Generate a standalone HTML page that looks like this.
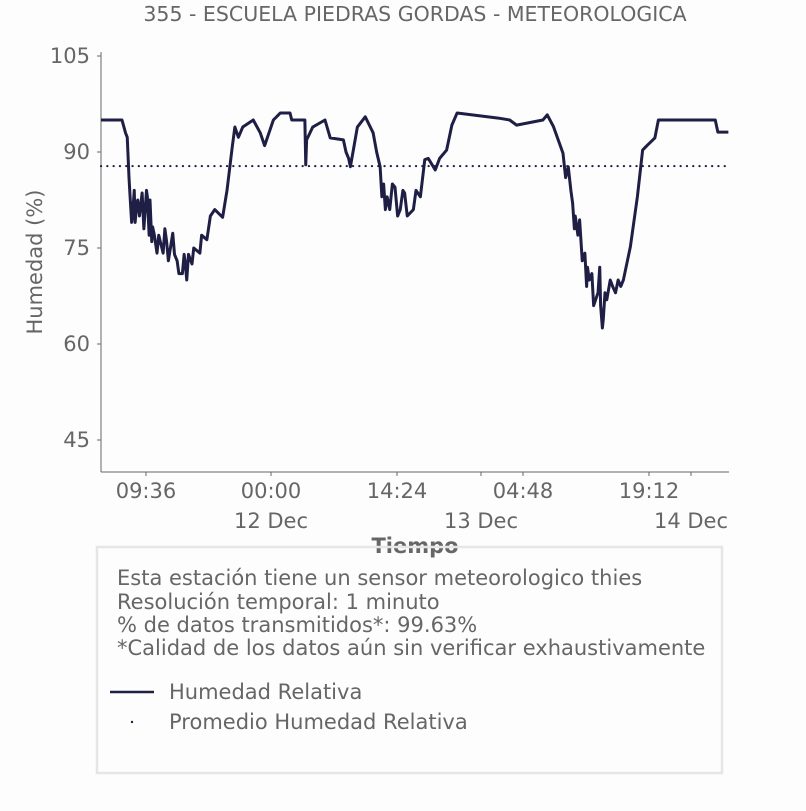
<!DOCTYPE html>
<html><head><meta charset="utf-8"><style>
body{margin:0;background:#fdfdfd;}
svg text{font-family:"DejaVu Sans","Liberation Sans",sans-serif;fill:#666;}
</style></head><body>
<svg id="chart" width="806" height="806" viewBox="0 0 806 806" xmlns="http://www.w3.org/2000/svg">
<rect x="0" y="0" width="806" height="806" fill="#fdfdfd"/>
<text x="415" y="21" text-anchor="middle" font-size="20.5">355 - ESCUELA PIEDRAS GORDAS - METEOROLOGICA</text>
<g id="plot"></g>
<text transform="translate(42,262) rotate(-90)" text-anchor="middle" font-size="21">Humedad (%)</text>
<text x="415" y="553" text-anchor="middle" font-size="21" font-weight="bold">Tiempo</text>
<rect x="97" y="547" width="625" height="226" fill="none" stroke="#e6e6e6" stroke-width="2.5"/>
<text x="117" y="585" font-size="21">Esta estación tiene un sensor meteorologico thies</text>
<text x="117" y="609" font-size="21">Resolución temporal: 1 minuto</text>
<text x="117" y="632" font-size="21">% de datos transmitidos*: 99.63%</text>
<text x="117" y="655" font-size="21">*Calidad de los datos aún sin verificar exhaustivamente</text>
<line x1="110" y1="692" x2="154" y2="692" stroke="#1f1f45" stroke-width="2.5"/>
<text x="169" y="699" font-size="21">Humedad Relativa</text>
<circle cx="132" cy="722" r="1.2" fill="#1f1f45"/>
<text x="169" y="729" font-size="21">Promedio Humedad Relativa</text>
</svg>
<script>
const hours = [0,2.4,2.8,3.0,3.2,3.3,3.5,3.6,3.8,3.9,4.1,4.2,4.4,4.7,4.9,5.0,5.2,5.3,5.5,5.6,5.8,5.9,6.1,6.4,6.6,7.1,7.3,7.5,7.7,8.2,8.4,8.7,8.9,9.3,9.5,9.6,9.8,10.0,10.4,10.6,11.3,11.5,12.1,12.5,13.0,13.9,14.4,15.0,15.3,15.7,16.2,17.4,18.2,18.7,19.7,20.5,21.6,21.8,23.0,23.3,23.4,23.5,24.2,25.6,26.2,27.7,28.0,28.3,28.5,28.8,29.3,30.2,31.1,31.5,31.9,32.1,32.3,32.5,32.7,33.0,33.3,33.6,33.9,34.2,34.5,34.7,35.0,35.7,36.0,36.5,37.0,37.4,38.2,38.7,39.5,40.1,40.7,45.4,46.7,47.5,50.5,51.0,51.7,52.8,53.1,53.4,53.7,53.9,54.1,54.2,54.5,54.7,55.0,55.3,55.5,55.6,55.8,56.1,56.3,56.8,57.0,57.1,57.3,57.4,57.6,57.8,58.2,58.5,58.8,59.1,59.4,59.7,60.5,61.3,61.9,62.4,63.3,63.7,70.2,70.5,71.7];
const humidity = [95,95,93,92.3,86,83.6,79,80,84,79,82,82.5,80,83.6,78,80,84,83,77,82.5,76,78.3,77,74.2,77,74.2,78,76,73,77.3,74,73,71,71,74,73,70,74,72.5,75,74.2,77,76.3,80,81,79.8,84,90.8,93.9,92.3,93.9,95,93,91,95,96.1,96.1,95,95,95,88,91.9,93.9,95,92.2,91.9,90,89,87.7,90,93.9,95.5,93,90,87.7,83,85,81,83,81,85,84.5,80,81,84,83.6,80,81,84,83,88.8,89,87.2,89,90.3,94.2,96.1,95.3,95,94.2,95,95.8,94,89.8,86,87.7,84,82,78,80,77,79.4,73,74.2,69,72,70,71,66,68,72,66,62.5,63.8,68,66.9,70,68.9,68,70,69,70,75.2,83,90.3,91,92.2,95,95,93.1,93.1];
const meanHumidity = 87.8;
const yTicks = [45,60,75,90,105];
const xTickHours = [5.14,19.43,33.83,48.23,62.63];
const xTickLabels = ["09:36","00:00","14:24","04:48","19:12"];
const dayTickHours = [19.43,43.43,67.43];
const dayLabels = ["12 Dec","13 Dec","14 Dec"];

const NS="http://www.w3.org/2000/svg";
const X0=101,X1=729,YB=472,YT=52;
const xs=h=>X0+h*8.75;
const ys=v=>56+(105-v)*6.4;
const g=document.getElementById('plot');
function mk(t,a){const e=document.createElementNS(NS,t);for(const k in a)e.setAttribute(k,a[k]);g.appendChild(e);return e;}
let e=mk('line',{x1:X0,y1:YT,x2:X0,y2:YB,stroke:'#666','stroke-width':1});


e=mk('line',{x1:X0,y1:YB,x2:X1,y2:YB,stroke:'#666','stroke-width':1});


yTicks.forEach(v=>{
  const t=mk('line',{x1:X0-4,y1:ys(v),x2:X0,y2:ys(v),stroke:'#666'});
  
  
  const l=mk('text',{x:X0-11,y:ys(v)+7,'text-anchor':'end','font-size':21});
  l.textContent=v;
  
  
});
xTickHours.forEach((h,i)=>{
  const t=mk('line',{x1:xs(h),y1:YB,x2:xs(h),y2:YB+4,stroke:'#666'});
  
  
  const l=mk('text',{x:xs(h),y:498,'text-anchor':'middle','font-size':21});
  l.textContent=xTickLabels[i];
  
  
});
dayTickHours.forEach((h,i)=>{
  const t=mk('line',{x1:xs(h),y1:YB,x2:xs(h),y2:YB+4,stroke:'#666'});
  
  
  const l=mk('text',{x:xs(h),y:528,'text-anchor':'middle','font-size':21});
  l.textContent=dayLabels[i];
  
  
});
e=mk('line',{x1:X0,y1:ys(meanHumidity),x2:X1,y2:ys(meanHumidity),stroke:'#1f1f45','stroke-width':2.2,'stroke-dasharray':'0.1 6.2','stroke-linecap':'round'});


e=mk('polyline',{points:hours.map((h,i)=>xs(h)+','+ys(humidity[i])).join(' '),fill:'none',stroke:'#1f1f45','stroke-width':3,'stroke-linejoin':'round'});


</script>
</body></html>
